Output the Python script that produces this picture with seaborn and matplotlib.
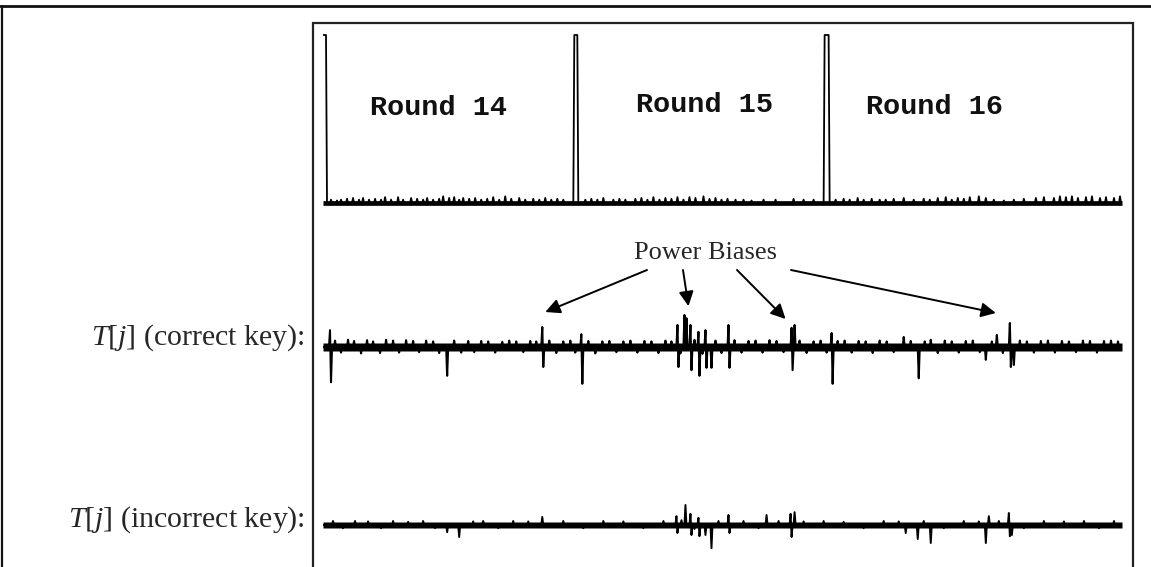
import numpy as np
import pandas as pd
import seaborn as sns
import matplotlib.pyplot as plt
from matplotlib.patches import Rectangle
from matplotlib.lines import Line2D

# trace samples (one trace covers rounds 14-16)
n_samples = 799

# top trace: round marker pulses (start, end) and height
pulse_start = [0, 251, 501]
pulse_end = [3, 254, 505]
pulse_height = 1.0
# small bumps on the top trace
top_fuzz_t = [8, 14, 18, 24, 30, 36, 40, 46, 52, 58, 62, 68, 75, 80, 88, 94, 100, 104, 110, 116, 120,
              126, 131, 136, 140, 146, 152, 158, 164, 170, 176, 182, 188, 196, 202, 210, 216, 222, 228,
              234, 240, 262, 268, 274, 280, 290, 296, 302, 312, 318, 324, 330, 336, 342, 348, 354, 360,
              366, 372, 380, 386, 392, 398, 404, 412, 420, 428, 440, 452, 470, 480, 490,
              512, 520, 526, 534, 540, 548, 556, 562, 570, 580, 590, 600, 606, 614, 622, 628, 634, 640,
              646, 655, 662, 670, 680, 690, 700, 712, 720, 730, 736, 742, 748, 754, 762, 768, 776, 782, 790, 796]
top_fuzz_v = [0.02, 0.015, 0.02, 0.025, 0.03, 0.02, 0.03, 0.02, 0.025, 0.02, 0.035, 0.02, 0.035, 0.02, 0.03, 0.025, 0.02, 0.03, 0.02, 0.025, 0.04,
              0.03, 0.035, 0.02, 0.03, 0.025, 0.03, 0.02, 0.025, 0.035, 0.02, 0.04, 0.025, 0.03, 0.02, 0.025, 0.02, 0.03, 0.02,
              0.025, 0.02, 0.02, 0.025, 0.02, 0.03, 0.02, 0.025, 0.02, 0.025, 0.03, 0.02, 0.035, 0.02, 0.03, 0.025, 0.035, 0.02,
              0.035, 0.03, 0.04, 0.025, 0.03, 0.02, 0.025, 0.02, 0.02, 0.015, 0.02, 0.02, 0.025, 0.02, 0.02,
              0.02, 0.025, 0.02, 0.03, 0.02, 0.025, 0.02, 0.02, 0.025, 0.03, 0.02, 0.025, 0.02, 0.03, 0.035, 0.02, 0.03, 0.025,
              0.035, 0.04, 0.03, 0.02, 0.015, 0.02, 0.025, 0.03, 0.035, 0.03, 0.04, 0.035, 0.04, 0.03, 0.035, 0.04, 0.03, 0.035, 0.03, 0.04]

# T[j] correct key: spike position, upward peak, downward peak
corr_t = [7, 124, 219, 258, 354, 361, 363, 367, 375, 382, 388, 405, 468, 471, 508,
          580, 595, 607, 662, 673, 686, 690]
corr_up = [0.42, 0.0, 0.5, 0.32, 0.55, 0.8, 0.72, 0.55, 0.38, 0.42, 0.0, 0.55, 0.48, 0.55, 0.35,
           0.25, 0.0, 0.18, 0.0, 0.3, 0.6, 0.0]
corr_dn = [-0.88, -0.72, -0.5, -0.92, -0.5, 0.0, 0.0, -0.58, -0.72, -0.52, -0.52, -0.52, -0.58, 0.0, -0.92,
           0.0, -0.78, 0.0, -0.32, 0.0, -0.5, -0.45]
corr_fuzz_t = [12, 18, 25, 31, 38, 44, 50, 57, 63, 70, 76, 83, 90, 96, 103, 110, 116, 131, 138, 145,
               151, 158, 165, 172, 179, 186, 193, 200, 207, 213, 226, 233, 240, 247, 252, 265, 272, 279,
               286, 293, 300, 307, 314, 321, 328, 335, 342, 348, 357, 371, 379, 392, 398, 411, 418, 425,
               432, 439, 446, 453, 460, 476, 483, 490, 497, 503, 514, 521, 528, 535, 542, 549, 556, 563,
               570, 587, 601, 614, 621, 628, 635, 642, 649, 656, 668, 679, 696, 703, 710, 717, 724, 731,
               738, 745, 752, 759, 766, 773, 780, 787, 794]
corr_fuzz_v = [0.16, -0.14, 0.18, 0.15, -0.16, 0.17, 0.14, -0.15, 0.18, 0.16, -0.14, 0.17, 0.15, -0.13, 0.16, 0.14, -0.15, 0.16, -0.14, 0.15,
               -0.13, 0.15, 0.14, -0.14, 0.13, 0.16, 0.14, -0.13, 0.15, 0.14, 0.16, -0.15, 0.14, 0.16, -0.14, 0.15, -0.16, 0.14,
               0.15, -0.13, 0.14, 0.16, -0.14, 0.15, 0.14, -0.15, 0.16, 0.14, -0.16, 0.18, -0.17, 0.16, -0.15, 0.17, -0.14, 0.15,
               0.16, -0.14, 0.17, 0.15, -0.13, 0.16, -0.15, 0.14, 0.16, -0.14, 0.15, 0.16, -0.14, 0.15, 0.14, -0.15, 0.16, 0.14,
               -0.13, 0.15, 0.14, -0.15, 0.16, 0.14, -0.14, 0.15, 0.16, -0.13, 0.14, -0.15, 0.16, 0.14, -0.14, 0.15, 0.16, -0.14,
               0.15, 0.14, -0.13, 0.16, 0.15, -0.14, 0.15, 0.16, 0.14]

# T[j] incorrect key
inc_t = [124, 136, 219, 353, 362, 367, 375, 382, 388, 405, 443, 467, 471, 582, 594, 607, 662, 665, 685, 688]
inc_up = [0.0, 0.0, 0.2, 0.22, 0.5, 0.28, 0.18, 0.0, 0.0, 0.25, 0.25, 0.28, 0.32, 0.0, 0.0, 0.0, 0.0, 0.22, 0.3, 0.0]
inc_dn = [-0.18, -0.3, 0.0, -0.2, 0.0, -0.25, -0.28, -0.25, -0.58, -0.2, 0.0, -0.3, 0.0, -0.2, -0.35, -0.45, -0.45, 0.0, -0.28, -0.25]
inc_fuzz_t = [10, 20, 32, 45, 58, 70, 85, 100, 112, 150, 160, 175, 190, 205, 240, 260, 280, 300, 320,
              340, 358, 371, 395, 420, 435, 455, 480, 500, 520, 540, 560, 575, 600, 620, 640, 655,
              675, 700, 720, 740, 760, 775, 790]
inc_fuzz_v = [0.1, -0.08, 0.1, 0.09, -0.08, 0.1, 0.08, 0.1, -0.08, 0.09, 0.1, -0.08, 0.1, 0.09, 0.1, -0.08, 0.1, 0.09, -0.08,
              0.1, 0.12, -0.1, 0.1, 0.1, -0.08, 0.1, 0.09, 0.1, 0.08, -0.08, 0.1, 0.09, 0.1, -0.08, 0.1, 0.09,
              0.1, -0.08, 0.1, 0.09, 0.1, -0.08, 0.1]


def spike_frame(pos, up, dn, fuzz_t, fuzz_v):
    v = np.zeros(n_samples)
    for t, f in zip(fuzz_t, fuzz_v):
        v[t] = f
    for t, a, b in zip(pos, up, dn):
        if a != 0:
            v[t] = a
        if b != 0:
            v[t + 1 if a != 0 else t] = b
    return pd.DataFrame({'t': np.arange(n_samples), 'v': v})


top = np.zeros(n_samples)
for t, f in zip(top_fuzz_t, top_fuzz_v):
    top[t] = f
for s, e in zip(pulse_start, pulse_end):
    top[s:e + 1] = pulse_height
df_top = pd.DataFrame({'t': np.arange(n_samples), 'v': top})
df_corr = spike_frame(corr_t, corr_up, corr_dn, corr_fuzz_t, corr_fuzz_v)
df_inc = spike_frame(inc_t, inc_up, inc_dn, inc_fuzz_t, inc_fuzz_v)

sns.set_theme(style='white')
plt.rcParams['font.family'] = ['Liberation Serif', 'DejaVu Serif']
plt.rcParams['mathtext.fontset'] = 'custom'
plt.rcParams['mathtext.it'] = 'Liberation Serif:italic'
plt.rcParams['mathtext.rm'] = 'Liberation Serif'

W, H = 1151, 567
fig = plt.figure(figsize=(W / 100, H / 100), dpi=100)


def px_axes(x0, x1, y_top, y_bot):
    return fig.add_axes([x0 / W, 1 - y_bot / H, (x1 - x0) / W, (y_bot - y_top) / H])


# frames
fig.add_artist(Line2D([1.5 / W, 1.5 / W], [0, 1 - 6 / H], color='#111111', lw=1.6))
fig.add_artist(Line2D([0, 1], [1 - 6 / H, 1 - 6 / H], color='#111111', lw=2.0))
fig.add_artist(Rectangle((313 / W, -0.1), (1133 - 313) / W, 1.1 - 23 / H,
                         transform=fig.transFigure, fill=False, ec='#222222', lw=1.6))

x0, x1 = 323, 1122
# top trace: baseline at y=203, pulse top at y=35
ax_top = px_axes(x0, x1, 25, 213)
ax_top.fill_between(df_top['t'], -0.014, 0.014, color='black', lw=0)
sns.lineplot(x='t', y='v', data=df_top, ax=ax_top, color='black', lw=1.3)
ax_top.set_ylim(-10 / 168, 178 / 168)

# correct key: baseline y=347, 40 px per unit
ax_corr = px_axes(x0, x1, 300, 395)
ax_corr.fill_between(df_corr['t'], -0.1, 0.1, color='black', lw=0)
sns.lineplot(x='t', y='v', data=df_corr, ax=ax_corr, color='black', lw=1.5)
ax_corr.set_ylim(-48 / 40, 47 / 40)

# incorrect key: baseline y=525
ax_inc = px_axes(x0, x1, 480, 567)
ax_inc.fill_between(df_inc['t'], -0.075, 0.075, color='black', lw=0)
sns.lineplot(x='t', y='v', data=df_inc, ax=ax_inc, color='black', lw=1.4)
ax_inc.set_ylim(-42 / 40, 45 / 40)

for ax in (ax_top, ax_corr, ax_inc):
    ax.set_xlim(0, n_samples - 1)
    ax.set_axis_off()
    ax.patch.set_alpha(0)

# round labels
for label, (cx, cy) in zip(['Round 14', 'Round 15', 'Round 16'], [(438, 108), (705, 105), (934, 107)]):
    fig.text(cx / W, 1 - cy / H, label, ha='center', va='center',
             family='Liberation Mono', weight='bold', fontsize=20.5, color='#111111')

fig.text(305 / W, 1 - 345 / H, r'$T$[$j$] (correct key):', ha='right', va='baseline', fontsize=21.5)
fig.text(305 / W, 1 - 527 / H, r'$T$[$j$] (incorrect key):', ha='right', va='baseline', fontsize=21.5)

fig.text(706 / W, 1 - 259 / H, 'Power Biases', ha='center', va='baseline', fontsize=19)

# arrows from the label to the biased peaks
arrow_tips = [(222, 0.875), (365, 1.02), (462, 0.7), (672, 0.85)]
arrow_tails = [(647, 270), (683, 270), (737, 270), (791, 270)]
for (tx, ty), (sx, sy) in zip(arrow_tips, arrow_tails):
    ax_corr.annotate('', xy=(tx, ty), xycoords='data',
                     xytext=(sx, H - sy), textcoords='figure pixels',
                     arrowprops=dict(arrowstyle='-|>', mutation_scale=22, lw=1.4,
                                     color='black', shrinkA=0, shrinkB=0),
                     annotation_clip=False)

fig.savefig('out.png', dpi=100, facecolor='white')
